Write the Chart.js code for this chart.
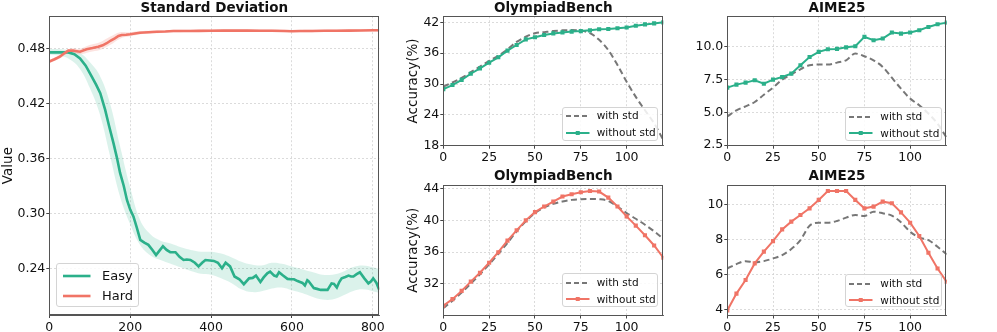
<!DOCTYPE html>
<html><head><meta charset="utf-8">
<script src="https://cdn.jsdelivr.net/npm/chart.js@4/dist/chart.umd.min.js"></script>
<style>
html,body{margin:0;padding:0;background:#fff;}
body{width:997px;height:332px;position:relative;overflow:hidden;font-family:"DejaVu Sans",sans-serif;}
canvas{position:absolute;}
.lg{position:absolute;box-sizing:border-box;border:1px solid #d4d4d4;border-radius:3px;background:rgba(255,255,255,0.85);color:#111;}
.lg .row{position:absolute;left:0;white-space:nowrap;}
.lg svg{position:absolute;overflow:visible;}
.lg span{position:absolute;line-height:1;}
</style></head><body>
<canvas id="c0" width="390" height="332" style="left:0;top:0"></canvas>
<canvas id="c1" width="300" height="166" style="left:390px;top:0"></canvas>
<canvas id="c2" width="307" height="166" style="left:690px;top:0"></canvas>
<canvas id="c3" width="300" height="166" style="left:390px;top:166px"></canvas>
<canvas id="c4" width="307" height="166" style="left:690px;top:166px"></canvas>
<div id="legends"></div>
<script>
// ---------------- data ----------------
const GREEN = '#2bb08a', RED = '#f07466', GRAY = '#777777';

const easyX = [0,25,47,62,76,90,105,116,126,138,148,159,167,175,184,192,200,208,216,225,235,245,255,264,272,281,290,299,312,322,332,340,349,360,369,378,386,397,407,417,427,436,447,458,470,481,494,503,511,522,530,539,546,556,562,568,578,589,597,605,614,620,626,632,638,641,654,662,671,680,688,698,704,711,717,723,732,740,746,752,760,768,779,789,795,801,809,816];
const easyStd = [0.4755,0.4755,0.4755,0.4735,0.469,0.461,0.449,0.440,0.431,0.413,0.395,0.376,0.361,0.344,0.330,0.3145,0.304,0.2966,0.285,0.271,0.268,0.2655,0.260,0.2545,0.259,0.264,0.260,0.2575,0.2575,0.2525,0.249,0.2495,0.249,0.246,0.242,0.246,0.249,0.2485,0.248,0.246,0.240,0.246,0.242,0.231,0.228,0.2226,0.229,0.2295,0.232,0.225,0.230,0.2345,0.2363,0.232,0.231,0.2356,0.232,0.2284,0.228,0.228,0.226,0.225,0.224,0.2212,0.227,0.226,0.2184,0.2175,0.2164,0.2164,0.2164,0.2235,0.223,0.219,0.225,0.229,0.2305,0.232,0.231,0.231,0.2335,0.2356,0.229,0.2235,0.2255,0.229,0.224,0.2164];

const hardX = [0,13,26,37,47,59,68,76,92,107,121,132,142,152,162,171,179,190,200,212,224,245,266,287,307,328,348,370,400,430,460,490,520,550,580,600,620,650,680,710,740,770,800,816];
const hardStd = [0.4654,0.468,0.4708,0.4745,0.4774,0.4774,0.4768,0.4763,0.479,0.4803,0.4817,0.4832,0.4855,0.4885,0.4909,0.4935,0.4945,0.4948,0.4953,0.4962,0.497,0.4975,0.4981,0.4983,0.4989,0.4989,0.4989,0.499,0.4992,0.4993,0.4993,0.4994,0.4992,0.4991,0.4988,0.4986,0.4988,0.4989,0.4991,0.4992,0.4993,0.4994,0.4996,0.4997];

const bandX = [0,25,50,75,100,125,150,175,200,225,250,275,300,325,350,375,400,425,450,475,500,525,550,575,600,625,650,675,700,725,750,775,800,816];
const easyUpper = [0.479,0.479,0.478,0.475,0.465,0.450,0.420,0.373,0.328,0.292,0.277,0.270,0.267,0.263,0.260,0.258,0.258,0.256,0.252,0.247,0.244,0.243,0.246,0.245,0.242,0.239,0.236,0.233,0.233,0.236,0.241,0.243,0.241,0.239];
const easyLower = [0.473,0.472,0.468,0.458,0.437,0.408,0.363,0.318,0.288,0.265,0.254,0.249,0.245,0.241,0.237,0.234,0.233,0.229,0.224,0.217,0.214,0.215,0.218,0.219,0.216,0.213,0.209,0.206,0.206,0.210,0.215,0.217,0.215,0.213];
const hardUpper = [0.4672,0.4725,0.4795,0.4795,0.4835,0.4865,0.4925,0.4975,0.4975,0.4988,0.4992,0.4996,0.5,0.5002,0.5002,0.5003,0.5004,0.5005,0.5005,0.5006,0.5006,0.5005,0.5004,0.5002,0.5,0.5,0.5001,0.5002,0.5004,0.5005,0.5006,0.5007,0.5008,0.5009];
const hardLower = [0.4636,0.4685,0.4752,0.4735,0.476,0.478,0.4835,0.4905,0.493,0.4952,0.4962,0.4968,0.4974,0.4976,0.4977,0.4978,0.4979,0.498,0.498,0.4981,0.4981,0.498,0.4979,0.4977,0.4975,0.4975,0.4976,0.4977,0.4979,0.498,0.4981,0.4982,0.4983,0.4984];

const stdXTicks = [0,200,400,600,800];
const stdYTicks = [0.24,0.30,0.36,0.42,0.48];

const steps = [0,5,10,15,20,25,30,35,40,45,50,55,60,65,70,75,80,85,90,95,100,105,110,115,120];
const stepTicks = [0,25,50,75,100];

const obTopWith    = [29.5,30.3,31.2,32.3,33.4,34.5,35.5,36.75,38.2,39.2,39.9,40.1,40.3,40.45,40.5,40.4,39.9,38.6,36.6,33.7,30.45,27.5,24.9,22.35,19.1];
const obTopWithout = [29.0,29.8,30.8,32.0,33.05,34.15,35.2,36.5,37.6,38.7,39.1,39.55,39.85,40.05,40.2,40.3,40.45,40.65,40.7,40.85,41.0,41.35,41.6,41.8,42.0];
const obTopTicks = [18,24,30,36,42];

const aimeTopWith    = [4.69,5.15,5.46,5.79,6.35,6.89,7.5,7.9,8.29,8.6,8.65,8.65,8.8,8.98,9.49,9.29,8.98,8.47,7.65,6.81,6.05,5.54,4.9,4.13,3.06];
const aimeTopWithout = [6.89,7.12,7.27,7.45,7.19,7.5,7.7,7.96,8.6,9.23,9.62,9.82,9.85,9.97,10.05,10.77,10.51,10.64,11.1,11.02,11.1,11.28,11.53,11.73,11.86];
const aimeTopTicks = [2.5,5.0,7.5,10.0];

const obBotWith    = [28.94,29.86,30.9,32.03,33.2,34.46,35.8,37.18,38.64,39.9,40.95,41.66,42.12,42.41,42.62,42.7,42.74,42.7,42.49,41.78,40.95,40.23,39.48,38.64,37.72];
const obBotWithout = [29.23,30.07,31.11,32.28,33.41,34.67,36.0,37.47,38.77,40.03,41.07,41.78,42.41,43.04,43.33,43.58,43.75,43.67,42.91,41.78,40.53,39.36,38.14,36.85,35.3];
const obBotTicks = [32,36,40,44];

const aimeBotWith    = [6.34,6.59,6.76,6.69,6.76,6.91,7.1,7.45,7.96,8.78,8.95,8.95,9.05,9.24,9.39,9.33,9.58,9.49,9.35,8.97,8.44,8.1,7.96,7.58,7.14];
const aimeBotWithout = [3.95,4.91,5.68,6.63,7.3,7.9,8.57,9.01,9.39,9.77,10.25,10.76,10.76,10.76,10.25,9.77,9.87,10.15,10.06,9.54,8.95,8.19,7.24,6.34,5.58];
const aimeBotTicks = [4,6,8,10];

// ---------------- helpers ----------------
const FONT = 'DejaVu Sans';
const pairs = (xs, ys) => xs.map((x, i) => ({x, y: ys[i]}));

const framePlugin = {
  id: 'frame',
  afterDraw(chart) {
    const {ctx, chartArea: a} = chart;
    ctx.save();
    ctx.strokeStyle = '#555';
    ctx.lineWidth = 1;
    ctx.strokeRect(Math.round(a.left) + 0.5, Math.round(a.top) + 0.5, Math.round(a.right - a.left) - 1, Math.round(a.bottom - a.top) - 1);
    ctx.restore();
  }
};

function gridOpts() {
  return {color: '#d2d2d2', lineWidth: 0.8, drawTicks: true, tickLength: 3, tickColor: '#444', tickWidth: 1, tickBorderDash: []};
}

function xAxis(min, max, ticks, height) {
  return {
    type: 'linear', min, max,
    afterBuildTicks: s => { s.ticks = ticks.map(v => ({value: v})); },
    afterFit: s => { s.height = height; },
    ticks: {font: {family: FONT, size: 12.5}, color: '#111', padding: 2, maxRotation: 0, autoSkip: false, callback: v => String(v)},
    grid: gridOpts(),
    border: {display: true, color: '#555', width: 1, dash: [2, 2]}
  };
}

function yAxis(min, max, ticks, dec, width, title) {
  return {
    type: 'linear', min, max,
    afterBuildTicks: s => { s.ticks = ticks.map(v => ({value: v})); },
    afterFit: s => { s.width = width; },
    ticks: {font: {family: FONT, size: 12.5}, color: '#111', padding: 1, autoSkip: false, callback: v => Number(v).toFixed(dec)},
    grid: gridOpts(),
    border: {display: true, color: '#555', width: 1, dash: [2, 2]},
    title: {display: !!title, text: title || '', font: {family: FONT, size: 13.5}, color: '#111', padding: {top: 0, bottom: 0}}
  };
}

function titleOpts(text) {
  return {display: true, text, fullSize: false, font: {family: FONT, size: 13.5, weight: 'bold'}, color: '#111', padding: {top: 0, bottom: 0}};
}

const baseOptions = {responsive: false, animation: false, devicePixelRatio: 1, events: []};

// ---------------- big chart ----------------
new Chart(document.getElementById('c0'), {
  type: 'line',
  data: {
    datasets: [
      {label: 'Hard', data: pairs(hardX, hardStd), borderColor: RED, borderWidth: 2.6, pointRadius: 0, tension: 0, order: 0, fill: false},
      {label: 'Easy', data: pairs(easyX, easyStd), borderColor: GREEN, borderWidth: 2.6, pointRadius: 0, tension: 0, order: 1, fill: false},
      {label: 'hu', data: pairs(bandX, hardUpper), borderWidth: 0, borderColor: 'rgba(0,0,0,0)', pointRadius: 0, tension: 0.4, fill: '+1', backgroundColor: 'rgba(240,116,102,0.2)', order: 5},
      {label: 'hl', data: pairs(bandX, hardLower), borderWidth: 0, borderColor: 'rgba(0,0,0,0)', pointRadius: 0, tension: 0.4, fill: false, order: 6},
      {label: 'eu', data: pairs(bandX, easyUpper), borderWidth: 0, borderColor: 'rgba(0,0,0,0)', pointRadius: 0, tension: 0.4, fill: '+1', backgroundColor: 'rgba(43,176,138,0.17)', order: 7},
      {label: 'el', data: pairs(bandX, easyLower), borderWidth: 0, borderColor: 'rgba(0,0,0,0)', pointRadius: 0, tension: 0.4, fill: false, order: 8}
    ]
  },
  options: Object.assign({}, baseOptions, {
    layout: {padding: {left: 0, right: 10.7, top: 0, bottom: 0}},
    plugins: {legend: {display: false}, tooltip: {enabled: false}, title: titleOpts('Standard Deviation')},
    scales: {x: xAxis(0, 816, stdXTicks, 17), y: yAxis(0.189, 0.515, stdYTicks, 2, 49.3, 'Value')}
  }),
  plugins: [framePlugin]
});

// ---------------- small charts ----------------
function small(id, title, withVals, withoutVals, color, ymin, ymax, yticks, dec, cfg) {
  new Chart(document.getElementById(id), {
    type: 'line',
    data: {
      labels: steps,
      datasets: [
        {label: 'without std', data: pairs(steps, withoutVals), borderColor: color, backgroundColor: color, borderWidth: 2,
         pointStyle: 'rect', pointRadius: 2.9, pointBackgroundColor: color, pointBorderColor: color, pointBorderWidth: 0, tension: 0, order: 0},
        {label: 'with std', data: pairs(steps, withVals), borderColor: GRAY, borderWidth: 2, borderDash: [6, 3.5],
         pointRadius: 0, cubicInterpolationMode: 'monotone', order: 1}
      ]
    },
    options: Object.assign({}, baseOptions, {
      layout: {padding: {left: cfg.padL, right: cfg.padR, top: cfg.padT, bottom: 0}},
      plugins: {legend: {display: false}, tooltip: {enabled: false}, title: titleOpts(title)},
      scales: {x: xAxis(0, 120, stepTicks, cfg.xh), y: yAxis(ymin, ymax, yticks, dec, cfg.yw, cfg.ytitle)}
    }),
    plugins: [framePlugin]
  });
}

small('c1', 'OlympiadBench', obTopWith, obTopWithout, GREEN, 18, 43.2, obTopTicks, 0,
  {padL: 15, padR: 26.7, padT: 0, xh: 20.3, yw: 38.3, ytitle: 'Accuracy(%)'});
small('c2', 'AIME25', aimeTopWith, aimeTopWithout, GREEN, 2.45, 12.35, aimeTopTicks, 1,
  {padL: 0, padR: 50.3, padT: 0, xh: 20.3, yw: 37.3, ytitle: ''});
small('c3', 'OlympiadBench', obBotWith, obBotWithout, RED, 28.0, 44.5, obBotTicks, 0,
  {padL: 15, padR: 26.7, padT: 2.8, xh: 16.5, yw: 38.3, ytitle: 'Accuracy(%)'});
small('c4', 'AIME25', aimeBotWith, aimeBotWithout, RED, 3.66, 11.1, aimeBotTicks, 0,
  {padL: 0, padR: 50.3, padT: 2.8, xh: 16.5, yw: 37.3, ytitle: ''});

// ---------------- legends (HTML text) ----------------
function lineSvg(x, y, len, color, width, dash, marker) {
  let s = `<svg style="left:${x}px;top:${y - 6}px" width="${len}" height="12"><line x1="0" y1="6" x2="${len}" y2="6" stroke="${color}" stroke-width="${width}"${dash ? ` stroke-dasharray="${dash}"` : ''}/>`;
  if (marker) s += `<rect x="${len / 2 - 2}" y="4" width="4" height="4" fill="${color}"/>`;
  return s + '</svg>';
}
function legend(left, top, w, h, rows, fontSize, lineX, lineLen, textX) {
  let html = `<div class="lg" style="left:${left}px;top:${top}px;width:${w}px;height:${h}px;font-size:${fontSize}px">`;
  rows.forEach(r => {
    html += lineSvg(lineX, r.y, lineLen, r.color, r.width, r.dash, r.marker);
    html += `<span style="left:${textX}px;top:${r.y - fontSize * 0.55}px">${r.label}</span>`;
  });
  return html + '</div>';
}
const L = document.getElementById('legends');
let lh = legend(56, 263, 83, 44, [
  {label: 'Easy', y: 11.8, color: GREEN, width: 2.6},
  {label: 'Hard', y: 31.8, color: RED, width: 2.6}
], 13, 6, 27.5, 45);
const smallRows = c => [
  {label: 'with std', y: 8.5, color: GRAY, width: 2, dash: '5,3'},
  {label: 'without std', y: 25, color: c, width: 2, marker: true}
];
lh += legend(561.7, 106.7, 96.6, 34.3, smallRows(GREEN), 10.5, 3, 23.5, 34);
lh += legend(845.3, 107.3, 96.4, 33.7, smallRows(GREEN), 10.5, 3, 23.5, 34);
lh += legend(561.7, 273.3, 96.6, 33.4, smallRows(RED), 10.5, 3, 23.5, 34);
lh += legend(845.3, 274.3, 96.4, 32.4, smallRows(RED), 10.5, 3, 23.5, 34);
L.innerHTML = lh;
</script>
</body></html>
